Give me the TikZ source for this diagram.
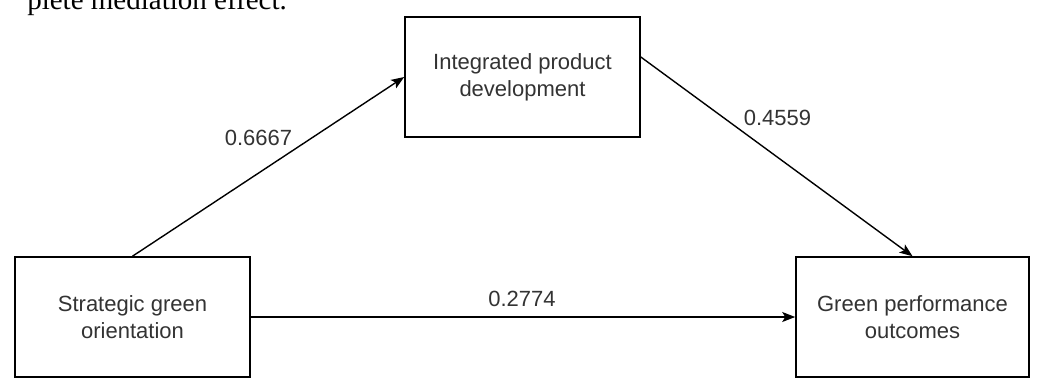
\documentclass[tikz,border=0pt]{standalone}
\usepackage{fontspec}
\setmainfont{Liberation Sans}
\newfontfamily\seriffont{Liberation Serif}
\usetikzlibrary{arrows.meta}
\definecolor{txt}{HTML}{333333}
\begin{document}
\begin{tikzpicture}[x=1pt,y=-1pt,
  box/.style={draw=black, line width=1.6pt, minimum width=235pt, minimum height=120pt,
    inner sep=0pt, align=center, text=txt, font=\fontsize{22}{27}\selectfont},
  link/.style={line width=1.4pt, -{Stealth[length=13pt,width=10pt,inset=3pt]}},
  lbl/.style={text=txt, font=\fontsize{22}{27}\selectfont, inner sep=0pt}]
\useasboundingbox (0,0) rectangle (1039,381);
\fill[white] (0,0) rectangle (1039,381);
\node[anchor=base east, inner sep=0pt, font=\seriffont\fontsize{29}{30}\selectfont] (cap) at (287,9.5) {plete mediation effect.};
\node[box] (ipd) at (522.5,77) {Integrated product\\development};
\node[box] (sgo) at (132.5,317) {Strategic green\\orientation};
\node[box, minimum width=233pt] (gpo) at (912.5,317) {Green performance\\outcomes};
\draw[link] (sgo.north) -- (ipd.west);
\draw[link] ([yshift=20pt]ipd.east) -- (gpo.north);
\draw[link] (sgo.east) -- (gpo.west);
\node[lbl] (l1) at (258.5,137.5) {0.6667};
\node[lbl] (l2) at (777.5,117.5) {0.4559};
\node[lbl] (l3) at (522,299) {0.2774};
\end{tikzpicture}
\end{document}
